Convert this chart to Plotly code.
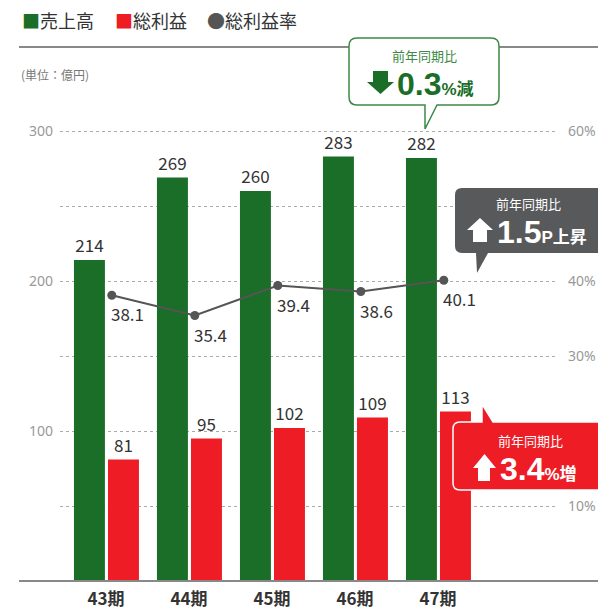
import plotly.graph_objects as go

# ---- data ----
periods = ["43期", "44期", "45期", "46期", "47期"]
sales = [214, 269, 260, 283, 282]          # 売上高 (億円)
gross_profit = [81, 95, 102, 109, 113]      # 総利益 (億円)
gross_margin = [38.1, 35.4, 39.4, 38.6, 40.1]  # 総利益率 (%)
left_ticks = [50, 100, 150, 200, 250, 300]
left_labels = ["", "100", "", "200", "", "300"]
right_ticks = [10, 20, 30, 40, 50, 60]
right_labels = ["10%", "20%", "30%", "40%", "50%", "60%"]

GREEN = "#1a6e28"
RED = "#ee1c25"
GRAY = "#58595b"
JP = "Noto Sans CJK JP, Noto Sans, sans-serif"
NUM = "Liberation Sans, Noto Sans CJK JP, sans-serif"

W, H = 598, 609
ML, MR, MT, MB = 60, 40, 47, 28
PW, PH = W - ML - MR, H - MT - MB


def px(x):
    return (x - ML) / PW


def py(y):
    return (H - MB - y) / PH


def path(cmds):
    out = []
    for c in cmds:
        if c == "Z":
            out.append("Z")
            continue
        op, pts = c[0], c[1:]
        out.append(op + " ".join(f"{px(a):.5f},{py(b):.5f}" for a, b in pts))
    return " ".join(out)


def note(x, y, text, size, color, family=JP, xanchor="center", yanchor="middle"):
    return dict(x=px(x), y=py(y), xref="paper", yref="paper", showarrow=False,
                xanchor=xanchor, yanchor=yanchor, text=text,
                font=dict(size=size, color=color, family=family))


idx = list(range(len(periods)))

fig = go.Figure()
fig.add_trace(go.Bar(
    x=idx, y=sales, width=0.373, offset=-0.386, marker=dict(color=GREEN, line=dict(width=0)),
    text=[str(v) for v in sales], textposition="outside", cliponaxis=False,
    textfont=dict(size=17, color="#333", family=JP), hoverinfo="skip"))
fig.add_trace(go.Bar(
    x=idx, y=gross_profit, width=0.373, offset=0.024, marker=dict(color=RED, line=dict(width=0)),
    text=[str(v) for v in gross_profit], textposition="outside", cliponaxis=False,
    textfont=dict(size=17, color="#333", family=JP), hoverinfo="skip"))
line_x = [i + 0.07 for i in idx]
fig.add_trace(go.Scatter(
    x=line_x, y=gross_margin, yaxis="y2", mode="lines+markers",
    line=dict(color="#555", width=2), marker=dict(color="#555", size=9), cliponaxis=False,
    hoverinfo="skip"))

annotations = []
for x, v in zip(line_x, gross_margin):
    annotations.append(dict(x=x, y=v, xref="x", yref="y2", text=f"{v:.1f}", showarrow=False,
                            xanchor="left", yanchor="top", xshift=-3, yshift=-4,
                            font=dict(size=17, color="#333", family=JP)))

# legend-like header
legend_items = [(20, GREEN, "■", "売上高"), (113, RED, "■", "総利益"), (205, "#555", "●", "総利益率")]
for x, col, sym, lab in legend_items:
    annotations.append(note(x, 20, f'<span style="color:{col}">{sym}</span>{lab}', 18, "#333",
                            xanchor="left"))
annotations.append(note(19, 74, "(単位：億円)", 12, "#777", xanchor="left"))

shapes = []
# top and bottom rules
for yy in (47, 581):
    shapes.append(dict(type="line", xref="paper", yref="paper", x0=px(19), x1=px(598),
                       y0=py(yy), y1=py(yy), line=dict(color="#888", width=2), layer="above"))

# green callout
r = 8
x0, x1, y0, y1 = 349, 499, 38, 105
shapes.append(dict(type="path", xref="paper", yref="paper", layer="above",
                   fillcolor="white", line=dict(color="#3d8a46", width=1.5),
                   path=path([("M", (x0 + r, y0)), ("L", (x1 - r, y0)), ("Q", (x1, y0), (x1, y0 + r)),
                              ("L", (x1, y1 - r)), ("Q", (x1, y1), (x1 - r, y1)),
                              ("L", (437, y1)), ("L", (425, 129)), ("L", (425, y1)),
                              ("L", (x0 + r, y1)), ("Q", (x0, y1), (x0, y1 - r)),
                              ("L", (x0, y0 + r)), ("Q", (x0, y0), (x0 + r, y0)), "Z"])))
shapes.append(dict(type="path", xref="paper", yref="paper", layer="above",
                   fillcolor=GREEN, line=dict(width=0),
                   path=path([("M", (373, 71)), ("L", (388, 71)), ("L", (388, 82)), ("L", (394, 82)),
                              ("L", (380.5, 94)), ("L", (367, 82)), ("L", (373, 82)), "Z"])))
annotations.append(note(424, 55, "前年同期比", 13, "#3d8a46"))
annotations.append(note(395, 84, '<b>0.3</b><span style="font-size:17px"><b>%減</b></span>',
                        32, GREEN, family=NUM, xanchor="left"))

# gray callout
r = 7
x0, x1, y0, y1 = 455, 606, 188, 253
shapes.append(dict(type="path", xref="paper", yref="paper", layer="above",
                   fillcolor=GRAY, line=dict(width=0),
                   path=path([("M", (x0 + r, y0)), ("L", (x1, y0)), ("L", (x1, y1)),
                              ("L", (488, y1)), ("L", (477, 273)), ("L", (476, y1)),
                              ("L", (x0 + r, y1)), ("Q", (x0, y1), (x0, y1 - r)),
                              ("L", (x0, y0 + r)), ("Q", (x0, y0), (x0 + r, y0)), "Z"])))
shapes.append(dict(type="path", xref="paper", yref="paper", layer="above",
                   fillcolor="white", line=dict(width=0),
                   path=path([("M", (480, 218)), ("L", (493, 230)), ("L", (487, 230)), ("L", (487, 242)),
                              ("L", (473, 242)), ("L", (473, 230)), ("L", (467, 230)), "Z"])))
annotations.append(note(528, 203, "前年同期比", 13, "white"))
annotations.append(note(495, 232, '<b>1.5</b><span style="font-size:17px"><b>P上昇</b></span>',
                        32, "white", family=NUM, xanchor="left"))

# red callout
x0, x1, y0, y1 = 453, 606, 422, 490
shapes.append(dict(type="path", xref="paper", yref="paper", layer="above",
                   fillcolor=RED, line=dict(color="white", width=1.5),
                   path=path([("M", (x0 + r, y0)), ("L", (482, y0)), ("L", (482, 404)), ("L", (493, y0)),
                              ("L", (x1, y0)), ("L", (x1, y1)),
                              ("L", (x0 + r, y1)), ("Q", (x0, y1), (x0, y1 - r)),
                              ("L", (x0, y0 + r)), ("Q", (x0, y0), (x0 + r, y0)), "Z"])))
shapes.append(dict(type="path", xref="paper", yref="paper", layer="above",
                   fillcolor="white", line=dict(width=0),
                   path=path([("M", (484.5, 454)), ("L", (496, 468)), ("L", (490, 468)), ("L", (490, 481)),
                              ("L", (478, 481)), ("L", (478, 468)), ("L", (473, 468)), "Z"])))
annotations.append(note(530, 440, "前年同期比", 13, "white"))
annotations.append(note(498, 469, '<b>3.4</b><span style="font-size:17px"><b>%増</b></span>',
                        32, "white", family=NUM, xanchor="left"))

fig.update_layout(
    width=W, height=H, margin=dict(l=ML, r=MR, t=MT, b=MB, autoexpand=False),
    paper_bgcolor="white", plot_bgcolor="white", showlegend=False, barmode="overlay",
    xaxis=dict(range=[-0.5542, 5.4458], tickvals=idx, ticktext=periods, showgrid=False,
               zeroline=False, showline=False, ticks="", fixedrange=True, automargin=False,
               tickfont=dict(size=17, color="#333", family=JP, weight="bold"),
               ticklabelstandoff=6),
    yaxis=dict(range=[0, PH / 1.5], tickvals=left_ticks, ticktext=left_labels, showgrid=True,
               griddash="dot", gridcolor="#aaa", gridwidth=1, zeroline=False, showline=False,
               ticks="", tickfont=dict(size=14, color="#999", family="Noto Sans"),
               ticklabelstandoff=6, automargin=False),
    yaxis2=dict(range=[0, PH / 1.5 / 5], overlaying="y", side="right", tickvals=right_ticks,
                ticktext=right_labels, showgrid=False, zeroline=False, showline=False, ticks="",
                tickfont=dict(size=14, color="#999", family="Noto Sans"), ticklabelstandoff=9,
                automargin=False),
    annotations=annotations, shapes=shapes,
)

fig.write_html("out.html")
